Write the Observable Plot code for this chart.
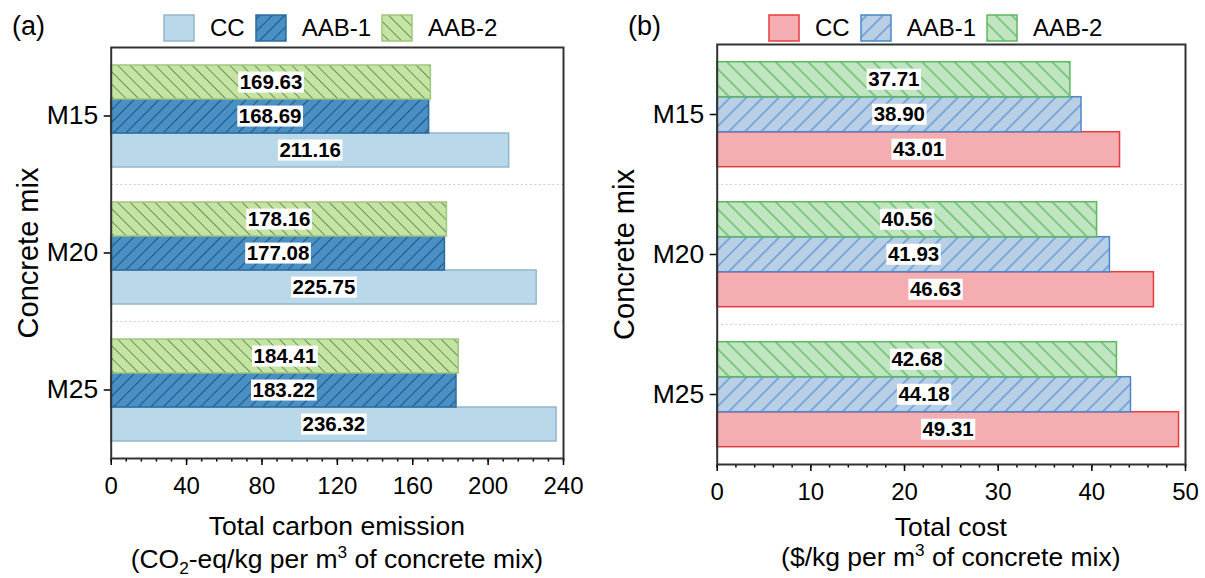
<!DOCTYPE html>
<html><head><meta charset="utf-8">
<script src="https://cdn.jsdelivr.net/npm/d3@7"></script>
<script src="https://cdn.jsdelivr.net/npm/@observablehq/plot@0.6"></script>
<style>
body{margin:0;background:#fff;font-family:"Liberation Sans",Arial,sans-serif;color:#000;}
#wrap{position:relative;width:1205px;height:578px;display:flex;overflow:hidden;}
.panel{position:relative;}
.head{position:relative;height:40px;}
.tag{position:absolute;top:11px;font-size:27px;line-height:30px;}
.legend{position:absolute;top:14px;display:flex;align-items:center;font-size:24px;line-height:28px;}
.legend svg{margin-right:15px;display:block;}
.legend span{margin-right:10px;}
.cap{text-align:center;font-size:26.5px;}
.cap sub,.cap sup{font-size:0.65em;line-height:0;}
</style></head><body>
<svg width="0" height="0" style="position:absolute">
<defs>
<pattern id="a-aab1" patternUnits="userSpaceOnUse" width="8.8" height="8.8" patternTransform="rotate(45)">
<rect width="8.8" height="8.8" fill="#4a90c5"/><line x1="4.4" y1="0" x2="4.4" y2="8.8" stroke="#1d5886" stroke-width="1.1"/></pattern>
<pattern id="a-aab2" patternUnits="userSpaceOnUse" width="8.8" height="8.8" patternTransform="rotate(-45)">
<rect width="8.8" height="8.8" fill="#c4e4a2"/><line x1="4.4" y1="0" x2="4.4" y2="8.8" stroke="#6e8c5e" stroke-width="1"/></pattern>
<pattern id="b-aab1" patternUnits="userSpaceOnUse" width="11.5" height="11.5" patternTransform="rotate(45)">
<rect width="11.5" height="11.5" fill="#b9cfe6"/><line x1="5.75" y1="0" x2="5.75" y2="11.5" stroke="#4b88c9" stroke-width="1.1"/></pattern>
<pattern id="b-aab2" patternUnits="userSpaceOnUse" width="11.5" height="11.5" patternTransform="rotate(-45)">
<rect width="11.5" height="11.5" fill="#c0e5c1"/><line x1="5.75" y1="0" x2="5.75" y2="11.5" stroke="#4cae4f" stroke-width="1.1"/></pattern>
</defs></svg>
<div id="wrap"><div class="panel" id="pa" style="width:600px"></div><div class="panel" id="pb" style="width:605px"></div></div>
<script>
// ---- data ----
const mixes = ["M15", "M20", "M25"];
const seriesNames = ["CC", "AAB-1", "AAB-2"];
const carbonCC = [211.16, 225.75, 236.32];
const carbonAAB1 = [168.69, 177.08, 183.22];
const carbonAAB2 = [169.63, 178.16, 184.41];
const costCC = [43.01, 46.63, 49.31];
const costAAB1 = [38.90, 41.93, 44.18];
const costAAB2 = [37.71, 40.56, 42.68];
const carbonTicks = [0, 40, 80, 120, 160, 200, 240];
const costTicks = [0, 10, 20, 30, 40, 50];

function table(cc, a1, a2) {
  const rows = [];
  mixes.forEach((m, i) => {
    rows.push({mix: m, series: "CC", value: cc[i]});
    rows.push({mix: m, series: "AAB-1", value: a1[i]});
    rows.push({mix: m, series: "AAB-2", value: a2[i]});
  });
  return rows;
}

const FONT = "Liberation Sans, Arial, sans-serif";

function panel(cfg) {
  const el = document.getElementById(cfg.id);
  const head = document.createElement("div");
  head.className = "head";
  const tag = document.createElement("div");
  tag.className = "tag"; tag.style.left = cfg.tagLeft + "px"; tag.textContent = cfg.tag;
  head.appendChild(tag);
  const leg = document.createElement("div");
  leg.className = "legend"; leg.style.left = cfg.legLeft + "px";
  seriesNames.forEach(s => {
    const st = cfg.styles[s];
    const sw = d3.create("svg").attr("width", 32).attr("height", 28);
    sw.append("rect").attr("x", 1).attr("y", 1).attr("width", 30).attr("height", 26)
      .attr("fill", st.fill).attr("stroke", st.stroke).attr("stroke-width", 1.5);
    leg.appendChild(sw.node());
    const sp = document.createElement("span"); sp.textContent = s; leg.appendChild(sp);
  });
  head.appendChild(leg);
  el.appendChild(head);

  const data = table(...cfg.values);
  const barMarks = seriesNames.map(s => Plot.barX(data.filter(d => d.series === s), {
    fy: "mix", y: "series", x: "value",
    fill: cfg.styles[s].fill, stroke: cfg.styles[s].stroke, strokeWidth: 1.5
  }));

  const chart = Plot.plot({
    width: cfg.width, height: cfg.height,
    marginLeft: cfg.ml, marginRight: cfg.mr, marginTop: cfg.mt, marginBottom: cfg.mb,
    style: {fontFamily: FONT, fontSize: "24px", color: "#000", background: "transparent", overflow: "visible"},
    x: {domain: [0, cfg.max]},
    y: {domain: ["AAB-2", "AAB-1", "CC"], paddingInner: 0, paddingOuter: 0.5, axis: null},
    fy: {domain: mixes, padding: 0},
    marks: [
      Plot.frame({stroke: "#d0d0d0", strokeDasharray: "1.5,3", strokeWidth: 1}),
      ...barMarks,
      Plot.text(data, {
        fy: "mix", y: "series", x: d => d.value / 2,
        text: d => d.value.toFixed(2),
        fontWeight: "bold", fontSize: 20.5, fill: "#000",
        ariaDescription: "value-label"
      }),
      Plot.axisX({anchor: "bottom", ticks: cfg.minor, tickSize: 3.5, tickFormat: () => "", label: null, strokeWidth: 1.5}),
      Plot.axisX({anchor: "bottom", ticks: cfg.ticks, tickSize: 7, tickPadding: 11, fontSize: 24, label: null, strokeWidth: 1.5}),
      Plot.axisFy({anchor: "left", tickSize: 7, tickPadding: 6, fontSize: 26.5, label: null, strokeWidth: 1.5}),
      Plot.axisFy({anchor: "left", tickSize: 0, tickFormat: () => "", fontSize: 29, label: "Concrete mix",
        labelAnchor: "center", labelOffset: cfg.labelOffset}),
      Plot.frame({facet: "super", stroke: "#333", strokeWidth: 2})
    ]
  });
  el.appendChild(chart);

  // white label boxes sized from the rendered value labels
  let labels = Array.from(chart.querySelectorAll('g[aria-description="value-label"] text'));
  if (!labels.length) {
    labels = Array.from(chart.querySelectorAll("text")).filter(n => /^\d+\.\d\d$/.test(n.textContent.trim()));
  }
  labels.forEach(function(node) {
    const b = node.getBBox();
    if (!b.width) return;
    const cy = b.y + b.height / 2 + 0.5;
    const r = document.createElementNS("http://www.w3.org/2000/svg", "rect");
    r.setAttribute("x", b.x - 1.5);
    r.setAttribute("width", b.width + 3);
    r.setAttribute("y", cy - 10.5);
    r.setAttribute("height", 21);
    r.setAttribute("fill", "white");
    r.setAttribute("stroke", "none");
    const t = node.getAttribute("transform");
    if (t) r.setAttribute("transform", t);
    node.parentNode.insertBefore(r, node);
  });

  const cap = document.createElement("div");
  cap.className = "cap";
  cap.style.marginLeft = cfg.ml + "px";
  cap.style.width = (cfg.width - cfg.ml - cfg.mr) + "px";
  cap.style.lineHeight = cfg.capLH + "px";
  cap.style.paddingTop = cfg.capPad + "px";
  cap.innerHTML = cfg.caption;
  el.appendChild(cap);
}

panel({
  id: "pa", tag: "(a)", tagLeft: 12, legLeft: 163,
  width: 600, height: 465, ml: 110.7, mr: 37, mt: 6, mb: 47,
  max: 240, ticks: carbonTicks, minor: d3.range(0, 241, 8), labelOffset: 94,
  values: [carbonCC, carbonAAB1, carbonAAB2],
  styles: {
    "CC": {fill: "#b9d9ea", stroke: "#92b6cb"},
    "AAB-1": {fill: "url(#a-aab1)", stroke: "#2a6b9d"},
    "AAB-2": {fill: "url(#a-aab2)", stroke: "#9fc67f"}
  },
  capLH: 33, capPad: 5,
  caption: "Total carbon emission<br>(CO<sub>2</sub>-eq/kg per m<sup>3</sup> of concrete mix)"
});

panel({
  id: "pb", tag: "(b)", tagLeft: 28, legLeft: 168,
  width: 605, height: 468, ml: 116.7, mr: 20, mt: 3.3, mb: 42.3,
  max: 50, ticks: costTicks, minor: d3.range(0, 51, 2), labelOffset: 104,
  values: [costCC, costAAB1, costAAB2],
  styles: {
    "CC": {fill: "#f4aeb1", stroke: "#e63b40"},
    "AAB-1": {fill: "url(#b-aab1)", stroke: "#4b88c9"},
    "AAB-2": {fill: "url(#b-aab2)", stroke: "#5cb85e"}
  },
  capLH: 30, capPad: 4,
  caption: "Total cost<br>($/kg per m<sup>3</sup> of concrete mix)"
});
</script>
</body></html>
